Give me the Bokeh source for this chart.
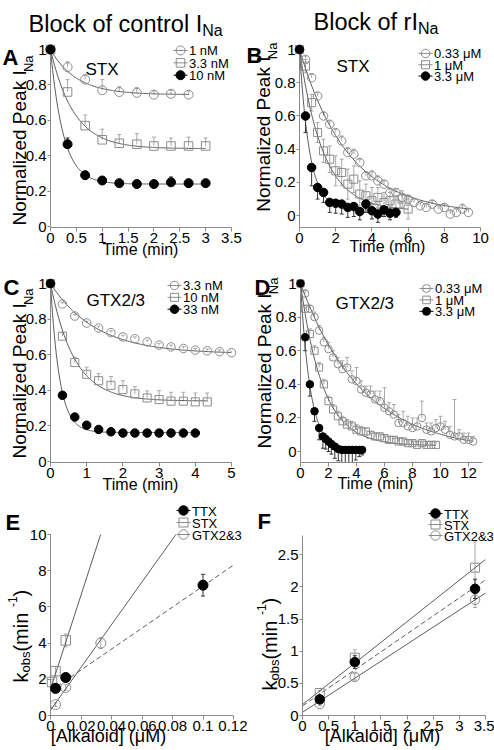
import math
import numpy as np
from bokeh.plotting import figure
from bokeh.models import (Range1d, FixedTicker, CustomJSTickFormatter, Whisker, TeeHead,
                          ColumnDataSource)
from bokeh.core.properties import value
from bokeh.layouts import column, row
from bokeh.embed import file_html
from bokeh.resources import INLINE

# ---------------- data ----------------
# Panel A: STX, control I_Na
A_t_1nM = [0, 0.33, 0.67, 1.0, 1.33, 1.67, 2.0, 2.33, 2.67]
A_y_1nM = [1.0, 0.90, 0.83, 0.77, 0.76, 0.755, 0.745, 0.75, 0.745]
A_e_1nM = [0, 0.03, 0.03, 0.06, 0.03, 0.03, 0.02, 0.02, 0.02]
A_t_3nM = [0, 0.33, 0.67, 1.0, 1.33, 1.67, 2.0, 2.33, 2.67, 3.0]
A_y_3nM = [1.0, 0.76, 0.57, 0.49, 0.47, 0.465, 0.455, 0.455, 0.455, 0.455]
A_e_3nM = [0, 0.07, 0.06, 0.06, 0.05, 0.06, 0.05, 0.045, 0.05, 0.045]
A_t_10nM = [0, 0.33, 0.67, 1.0, 1.33, 1.67, 2.0, 2.33, 2.67, 3.0]
A_y_10nM = [1.0, 0.465, 0.29, 0.26, 0.245, 0.24, 0.24, 0.25, 0.245, 0.245]
A_e_10nM = [0, 0.035, 0.01, 0.01, 0.01, 0.01, 0.01, 0.03, 0.02, 0.01]
A_fit_1nM = (0.745, 0.50)     # (plateau, tau in min)
A_fit_3nM = (0.44, 0.45)
A_fit_10nM = (0.24, 0.25)

# Panel B: STX, rI_Na
B_t_033 = [0, 0.33, 0.67, 1.0, 1.33, 1.67, 2.0, 2.33, 2.67, 3.0, 3.33, 3.67, 4.0, 4.33, 4.67,
           5.0, 5.33, 5.67, 6.0, 6.33, 6.67, 7.0, 7.33, 7.67, 8.0, 8.33, 8.67, 9.0, 9.33]
B_y_033 = [1.0, 0.94, 0.83, 0.72, 0.60, 0.55, 0.50, 0.45, 0.38, 0.37, 0.32, 0.24, 0.24, 0.21, 0.19,
           0.14, 0.14, 0.11, 0.10, 0.08, 0.06, 0.05, 0.07, 0.04, 0.05, 0.01, 0.02, 0.04, 0.02]
B_e_033 = [0, 0.02, 0.02, 0.02, 0.02, 0.02, 0.02, 0.03, 0.03, 0.03, 0.02, 0.02, 0.03, 0.03, 0.02,
           0.02, 0.02, 0.02, 0.02, 0.02, 0.02, 0.02, 0.02, 0.02, 0.02, 0.02, 0.02, 0.03, 0.02]
B_t_1 = [0, 0.33, 0.67, 1.0, 1.33, 1.67, 2.0, 2.33, 2.67, 3.0, 3.33, 3.67, 4.0, 4.33, 4.67,
         5.0, 5.33, 5.67, 6.0]
B_y_1 = [1.0, 0.90, 0.68, 0.50, 0.39, 0.34, 0.27, 0.26, 0.19, 0.22, 0.13, 0.12, 0.09, 0.11, 0.08,
         0.09, 0.07, 0.10, 0.04]
B_e_1 = [0, 0.04, 0.05, 0.06, 0.07, 0.08, 0.09, 0.08, 0.09, 0.08, 0.08, 0.07, 0.08, 0.06, 0.06,
         0.05, 0.05, 0.05, 0.06]
B_t_33 = [0, 0.33, 0.67, 1.0, 1.33, 1.67, 2.0, 2.33, 2.67, 3.0, 3.33, 3.67, 4.0, 4.33, 4.67, 5.0, 5.33]
B_y_33 = [1.0, 0.60, 0.29, 0.17, 0.14, 0.08, 0.075, 0.07, 0.05, 0.055, 0.025, 0.07, 0.03, 0.01,
          0.035, 0.015, 0.02]
B_e_33 = [0, 0.10, 0.11, 0.07, 0.06, 0.06, 0.06, 0.06, 0.06, 0.06, 0.05, 0.05, 0.05, 0.05, 0.04,
          0.04, 0.03]
B_fit_033 = (0.01, 2.7)
B_fit_1 = (0.03, 1.3)
B_fit_33 = (0.04, 0.55)

# Panel C: GTX2/3, control I_Na
C_t_3nM = [0, 0.33, 0.67, 1.0, 1.33, 1.67, 2.0, 2.33, 2.67, 3.0, 3.33, 3.67, 4.0, 4.33, 4.67, 5.0]
C_y_3nM = [1.0, 0.885, 0.817, 0.778, 0.75, 0.724, 0.70, 0.69, 0.672, 0.654, 0.644, 0.635, 0.626,
           0.622, 0.617, 0.611]
C_e_3nM = [0, 0.01, 0.01, 0.01, 0.01, 0.01, 0.01, 0.01, 0.01, 0.01, 0.01, 0.01, 0.01, 0.01, 0.01, 0.01]
C_t_10nM = [0, 0.33, 0.67, 1.0, 1.33, 1.67, 2.0, 2.33, 2.67, 3.0, 3.33, 3.67, 4.0, 4.33]
C_y_10nM = [1.0, 0.704, 0.556, 0.49, 0.454, 0.428, 0.404, 0.38, 0.357, 0.348, 0.339, 0.339, 0.335, 0.335]
C_e_10nM = [0, 0.02, 0.03, 0.04, 0.04, 0.05, 0.05, 0.04, 0.04, 0.05, 0.05, 0.05, 0.05, 0.05]
C_t_33nM = [0, 0.33, 0.67, 1.0, 1.33, 1.67, 2.0, 2.33, 2.67, 3.0, 3.33, 3.67, 4.0]
C_y_33nM = [1.0, 0.372, 0.25, 0.204, 0.18, 0.167, 0.16, 0.16, 0.16, 0.16, 0.16, 0.16, 0.16]
C_e_33nM = [0, 0.01, 0.01, 0.01, 0.01, 0.01, 0.01, 0.01, 0.01, 0.01, 0.01, 0.01, 0.01]
C_fit_3nM = (0.605, 1.25)
C_fit_10nM = (0.34, 0.65)
C_fit_33nM = (0.163, 0.25)

# Panel D: GTX2/3, rI_Na
D_t_033 = [0, 0.33, 0.67, 1.0, 1.33, 1.67, 2.0, 2.33, 2.67, 3.0, 3.33, 3.67, 4.0, 4.33, 4.67,
           5.0, 5.33, 5.67, 6.0, 6.33, 6.67, 7.0, 7.33, 7.67, 8.0, 8.33, 8.67, 9.0, 9.33, 9.67,
           10.0, 10.33, 10.67, 11.0, 11.33, 11.67, 12.0, 12.33]
D_y_033 = [1.0, 0.94, 0.85, 0.80, 0.72, 0.65, 0.61, 0.56, 0.52, 0.49, 0.50, 0.43, 0.42, 0.37, 0.35,
           0.34, 0.31, 0.30, 0.26, 0.24, 0.22, 0.17, 0.17, 0.15, 0.14, 0.15, 0.20, 0.13, 0.12, 0.14,
           0.15, 0.13, 0.10, 0.09, 0.09, 0.07, 0.07, 0.06]
D_e_033 = [0, 0.02, 0.02, 0.03, 0.03, 0.03, 0.04, 0.04, 0.04, 0.05, 0.06, 0.05, 0.08, 0.05, 0.04,
           0.05, 0.05, 0.06, 0.12, 0.05, 0.06, 0.05, 0.07, 0.06, 0.06, 0.05, 0.10, 0.04, 0.05, 0.05,
           0.06, 0.05, 0.05, 0.22, 0.04, 0.04, 0.04, 0.03]
D_t_1 = [0, 0.33, 0.67, 1.0, 1.33, 1.67, 2.0, 2.33, 2.67, 3.0, 3.33, 3.67, 4.0, 4.33, 4.67,
         5.0, 5.33, 5.67, 6.0, 6.33, 6.67, 7.0, 7.33, 7.67, 8.0, 8.33, 8.67, 9.0, 9.33, 9.67]
D_y_1 = [1.0, 0.85, 0.70, 0.60, 0.50, 0.40, 0.30, 0.25, 0.21, 0.18, 0.16, 0.15, 0.13, 0.12, 0.12,
         0.10, 0.09, 0.09, 0.08, 0.07, 0.07, 0.06, 0.06, 0.05, 0.05, 0.04, 0.05, 0.04, 0.04, 0.04]
D_e_1 = [0, 0.02, 0.03, 0.03, 0.03, 0.03, 0.03, 0.03, 0.03, 0.03, 0.03, 0.03, 0.03, 0.03, 0.02,
         0.02, 0.02, 0.02, 0.02, 0.02, 0.02, 0.02, 0.02, 0.02, 0.02, 0.02, 0.02, 0.02, 0.02, 0.02]
D_t_33 = [0, 0.33, 0.67, 1.0, 1.33, 1.6, 1.8, 2.0, 2.2, 2.45, 2.7, 2.95, 3.2, 3.45, 3.7, 3.95, 4.2, 4.4]
D_y_33 = [1.0, 0.68, 0.40, 0.24, 0.14, 0.09, 0.075, 0.06, 0.045, 0.03, 0.015, 0.01, 0.01, 0.01,
          0.01, 0.01, 0.01, 0.01]
D_e_33 = [0, 0.08, 0.07, 0.06, 0.07, 0.07, 0.06, 0.06, 0.06, 0.07, 0.07, 0.08, 0.09, 0.09, 0.08,
          0.06, 0.04, 0.03]
D_fit_033 = (0.0, 4.4)
D_fit_1 = (0.035, 1.6)
D_fit_33 = (0.01, 0.7)

# Panel E: k_obs vs concentration, control I_Na
E_x_TTX = [0.0033, 0.01, 0.1]
E_y_TTX = [1.5, 2.1, 7.2]
E_e_TTX = [0.25, 0.15, 0.6]
E_x_STX = [0.001, 0.0033, 0.01]
E_y_STX = [1.85, 2.45, 4.15]
E_e_STX = [0.15, 0.25, 0.35]
E_x_GTX = [0.0033, 0.01, 0.033]
E_y_GTX = [0.6, 1.55, 4.0]
E_e_GTX = [0.1, 0.15, 0.3]
E_line_TTX = (1.35, 58.0)     # (intercept, slope)
E_line_STX = (1.45, 260.0)
E_line_GTX = (0.3, 118.0)

# Panel F: k_obs vs concentration, rI_Na
F_x = [0.33, 1.0, 3.3]
F_y_TTX = [0.25, 0.83, 1.97]
F_e_TTX = [0.06, 0.10, 0.15]
F_y_STX = [0.35, 0.90, 2.30]
F_e_STX = [0.04, 0.12, 0.40]
F_y_GTX = [0.18, 0.60, 1.80]
F_e_GTX = [0.03, 0.05, 0.12]
F_line_TTX = (0.15, 0.56)
F_line_STX = (0.17, 0.645)
F_line_GTX = (0.05, 0.53)

# tick values
A_xt = [0, 0.5, 1, 1.5, 2, 2.5, 3, 3.5]
B_xt = [0, 2, 4, 6, 8, 10]
C_xt = [0, 1, 2, 3, 4, 5]
D_xt = [0, 2, 4, 6, 8, 10, 12]
E_xt = [0, 0.02, 0.04, 0.06, 0.08, 0.1, 0.12]
F_xt = [0, 0.5, 1, 1.5, 2, 2.5, 3, 3.5]
N_yt = [0, 0.2, 0.4, 0.6, 0.8, 1]
E_yt = [0, 2, 4, 6, 8, 10]
F_yt = [0, 0.5, 1, 1.5, 2, 2.5]

# ---------------- style ----------------
FONT = "Liberation Sans"
OPEN = "#8c8c8c"
ERR_OPEN = "#a8a8a8"
ERR_FILL = "#333333"
FITC = "#4a4a4a"
AXC = "#8a8a8a"
TICK_FS = "15px"

AW = {'N': 722, 'o': 556, 'r': 333, 'm': 833, 'a': 556, 'l': 222, 'i': 222, 'z': 500, 'e': 556,
      'd': 556, ' ': 278, 'P': 667, 'k': 500, 'I': 278, 'b': 556, 's': 500, '(': 333, ')': 333,
      'n': 556, '-': 333, '1': 556, 'B': 667, 'c': 500, 'f': 278, 't': 278}


def tw(s, size):
    return sum(AW.get(c, 556) for c in s) * size / 1000.0


def make_fig(box, frame, xr, yr, xt, yt, ybounds="auto"):
    fx, fy, w, h = box
    l, t, r, b = frame
    p = figure(width=w, height=h, x_range=Range1d(*xr), y_range=Range1d(*yr),
               output_backend="svg", toolbar_location=None,
               min_border_left=l - fx, min_border_right=fx + w - r,
               min_border_top=t - fy, min_border_bottom=fy + h - b)
    # pixel ranges of the frame, used only for texts and legend keys
    p.extra_x_ranges = {"px": Range1d(0, r - l)}
    p.extra_y_ranges = {"px": Range1d(0, b - t)}
    p.xgrid.visible = False
    p.ygrid.visible = False
    p.outline_line_color = None
    p.background_fill_color = "white"
    p.border_fill_color = "white"
    fmt = "return String(Math.round(tick*1000)/1000)"
    for ax, ticks, tout in ((p.xaxis[0], xt, 4), (p.yaxis[0], yt, 3)):
        ax.ticker = FixedTicker(ticks=ticks)
        ax.formatter = CustomJSTickFormatter(code=fmt)
        ax.axis_line_color = AXC
        ax.axis_line_width = 1
        ax.major_tick_line_color = AXC
        ax.minor_tick_line_color = None
        ax.major_tick_in = 0
        ax.major_tick_out = tout
        ax.major_label_text_font = FONT
        ax.major_label_text_font_size = TICK_FS
        ax.major_label_text_color = "black"
        ax.major_label_standoff = 1
    p.yaxis[0].bounds = ybounds
    return p


def lab(p, frame, px, py, text, size, angle=0.0, style="normal", align="left",
        baseline="alphabetic"):
    l, t, r, b = frame
    p.text(x=[px - l], y=[b - py], text=[text], x_range_name="px", y_range_name="px",
           text_font=value(FONT), text_font_size=value(f"{size}px"), text_font_style=style,
           text_align=align, text_baseline=baseline, angle=angle, text_color="black",
           level="overlay")


def hpieces(p, frame, x0, y0, pieces):
    x = x0
    for text, size, dy in pieces:
        lab(p, frame, x, y0 + dy, text, size)
        x += tw(text, size)


def vpieces(p, frame, bx, y0, pieces):
    y = y0
    for text, size, dx in pieces:
        lab(p, frame, bx + dx, y, text, size, angle=math.pi / 2)
        y -= tw(text, size)


def errbars(p, x, y, err, color, mode):
    xs, lo, hi = [], [], []
    for xi, yi, ei in zip(x, y, err):
        if ei <= 0:
            continue
        xs.append(xi)
        lo.append(yi - ei if mode in ("down", "both") else yi)
        hi.append(yi + ei if mode in ("up", "both") else yi)
    src = ColumnDataSource(dict(base=xs, lower=lo, upper=hi))
    up = TeeHead(size=4, line_color=color, line_width=1) if mode in ("up", "both") else None
    dn = TeeHead(size=4, line_color=color, line_width=1) if mode in ("down", "both") else None
    p.add_layout(Whisker(source=src, base="base", lower="lower", upper="upper",
                         dimension="height", line_color=color, line_width=1,
                         upper_head=up, lower_head=dn))


def style_of(kind):
    if kind == "filled":
        return "black", "black", ERR_FILL, "circle"
    if kind == "circle":
        return OPEN, None, ERR_OPEN, "circle"
    return OPEN, None, ERR_OPEN, "square"


def series(p, x, y, err, kind, mode, size):
    lc, fc, ec, mk = style_of(kind)
    if mk == "square":
        size = size * 0.95
    errbars(p, x, y, err, ec, mode)
    p.scatter(x, y, marker=mk, size=size, line_color=lc, fill_color=fc, line_width=1,
              level="overlay")


def fit(p, params, tmax):
    c, tau = params
    t = np.linspace(0, tmax, 150)
    p.line(t, c + (1 - c) * np.exp(-t / tau), line_color=FITC, line_width=0.9)


def regline(p, params, xmax, ymax, dash="solid"):
    a, s = params
    xend = min(xmax, (ymax - a) / s)
    xx = [0, xend]
    p.line(xx, [a + s * v for v in xx], line_color=FITC, line_width=0.9, line_dash=dash)


def leg(p, frame, label, kind, size, cx, cy):
    """legend key: short line, marker, label (pixel coords of the page)"""
    l, t, r, b = frame
    lc, fc, ec, mk = style_of(kind)
    if mk == "square":
        size = size * 0.95
    X, Y = cx - l, b - cy
    p.line([X - 7, X + 7], [Y, Y], x_range_name="px", y_range_name="px", line_color=lc,
           line_width=1, level="overlay")
    p.scatter([X], [Y], marker=mk, size=size, line_color=lc, fill_color=fc, line_width=1,
              x_range_name="px", y_range_name="px", level="overlay")
    lab(p, frame, cx + 8.5, cy + 0.5, label, 13, baseline="middle")


YLAB = [("Normalized Peak I", 19, 0), ("Na", 13, 9)]
KLAB = [("k", 20, 0), ("obs", 13, 5), (" (min", 20, 0), ("-1", 12, -8.5), (")", 20, 0)]

# ---------------- panels (page coordinates) ----------------
frA = (50, 47, 231, 227)
pA = make_fig((0, 0, 247, 258), frA, (0, 3.5), (-0.0055, 1.0), A_xt, N_yt)
fit(pA, A_fit_1nM, 2.67)
fit(pA, A_fit_3nM, 3.0)
fit(pA, A_fit_10nM, 3.0)
series(pA, A_t_1nM, A_y_1nM, A_e_1nM, "circle", "up", 9)
series(pA, A_t_3nM, A_y_3nM, A_e_3nM, "square", "up", 9)
series(pA, A_t_10nM, A_y_10nM, A_e_10nM, "filled", "up", 9)
leg(pA, frA, "1 nM", "circle", 9, 180, 48)
leg(pA, frA, "3.3 nM", "square", 9, 180, 60.5)
leg(pA, frA, "10 nM", "filled", 9, 180, 73)
lab(pA, frA, 85, 67, "STX", 17)
lab(pA, frA, 2, 55, "A", 22, style="bold")
hpieces(pA, frA, 28, 21, [("Block of control I", 23.5, 0), ("Na", 16, 7)])
vpieces(pA, frA, 18.5, 225, YLAB)
lab(pA, frA, 140, 249, "Time (min)", 16, align="center")

frB = (299, 49, 480, 230)
pB = make_fig((247, 0, 247, 258), frB, (0, 10), (-0.071, 1.0), B_xt, N_yt)
fit(pB, B_fit_033, 9.33)
fit(pB, B_fit_1, 6.0)
fit(pB, B_fit_33, 5.33)
series(pB, B_t_033, B_y_033, B_e_033, "circle", "up", 8.5)
series(pB, B_t_1, B_y_1, B_e_1, "square", "both", 8.5)
series(pB, B_t_33, B_y_33, B_e_33, "filled", "down", 8.5)
leg(pB, frB, "0.33 μM", "circle", 8.5, 425, 53)
leg(pB, frB, "1 μM", "square", 8.5, 425, 64.5)
leg(pB, frB, "3.3 μM", "filled", 8.5, 425, 76)
lab(pB, frB, 336, 66, "STX", 17)
lab(pB, frB, 246, 55, "B", 22, style="bold")
hpieces(pB, frB, 313, 21, [("Block of rI", 23.5, 0), ("Na", 16, 7)])
vpieces(pB, frB, 263, 214, YLAB)
lab(pB, frB, 387, 249, "Time (min)", 16, align="center")

frC = (50, 281, 231, 462)
pC = make_fig((0, 258, 247, 238), frC, (0, 5), (-0.0055, 1.0), C_xt, N_yt)
fit(pC, C_fit_3nM, 5.0)
fit(pC, C_fit_10nM, 4.33)
fit(pC, C_fit_33nM, 4.0)
series(pC, C_t_3nM, C_y_3nM, C_e_3nM, "circle", "up", 8.5)
series(pC, C_t_10nM, C_y_10nM, C_e_10nM, "square", "up", 8.5)
series(pC, C_t_33nM, C_y_33nM, C_e_33nM, "filled", "up", 8.5)
leg(pC, frC, "3.3 nM", "circle", 8.5, 174, 283)
leg(pC, frC, "10 nM", "square", 8.5, 174, 295)
leg(pC, frC, "33 nM", "filled", 8.5, 174, 307)
lab(pC, frC, 86, 298, "GTX2/3", 17)
lab(pC, frC, 3, 285, "C", 22, style="bold")
vpieces(pC, frC, 18.5, 458, YLAB)
lab(pC, frC, 140, 484, "Time (min)", 16, align="center")

frD = (300, 283, 482, 463)
pD = make_fig((247, 258, 247, 238), frD, (0, 13), (-0.065, 1.0), D_xt, N_yt)
fit(pD, D_fit_033, 12.33)
fit(pD, D_fit_1, 9.67)
fit(pD, D_fit_33, 4.4)
series(pD, D_t_033, D_y_033, D_e_033, "circle", "up", 7.5)
series(pD, D_t_1, D_y_1, D_e_1, "square", "up", 7.5)
series(pD, D_t_33, D_y_33, D_e_33, "filled", "down", 7.5)
leg(pD, frD, "0.33 μM", "circle", 8, 426, 288)
leg(pD, frD, "1 μM", "square", 8, 426, 299.5)
leg(pD, frD, "3.3 μM", "filled", 8, 426, 311)
lab(pD, frD, 335, 303, "GTX2/3", 17)
lab(pD, frD, 254, 287, "D", 22, style="bold")
vpieces(pD, frD, 264, 449, YLAB)
lab(pD, frD, 375, 484, "Time (min)", 16, align="center")

# E and F: the frame reaches above the axis top so that the legend keys are drawn;
# the y axis itself is bounded to the labelled range.
E_top = 10.0
frE = (50, 504, 233, 715)
E_ymax = E_top * (715 - 504) / (715 - 534)
pE = make_fig((0, 496, 247, 254), frE, (0, 0.12), (0, E_ymax), E_xt, E_yt, ybounds=(0, E_top))
regline(pE, E_line_STX, 0.12, E_top)
regline(pE, E_line_GTX, 0.12, E_top)
regline(pE, E_line_TTX, 0.12, E_top, dash="5 3")
series(pE, E_x_STX, E_y_STX, E_e_STX, "square", "both", 10)
series(pE, E_x_GTX, E_y_GTX, E_e_GTX, "circle", "both", 10)
series(pE, E_x_TTX, E_y_TTX, E_e_TTX, "filled", "both", 10)
leg(pE, frE, "TTX", "filled", 9.5, 183, 510)
leg(pE, frE, "STX", "square", 9.5, 183, 522)
leg(pE, frE, "GTX2&3", "circle", 9.5, 183, 534)
lab(pE, frE, 5, 522, "E", 22, style="bold")
vpieces(pE, frE, 20, 682, KLAB)
lab(pE, frE, 108, 735, "[Alkaloid] (μM)", 18, align="center")

F_top = 2.8
frF = (302, 504, 485, 715)
F_ymax = F_top * (715 - 504) / (715 - 535)
pF = make_fig((247, 496, 247, 254), frF, (0, 3.5), (0, F_ymax), F_xt, F_yt, ybounds=(0, F_top))
regline(pF, F_line_STX, 3.5, F_top)
regline(pF, F_line_GTX, 3.5, F_top)
regline(pF, F_line_TTX, 3.5, F_top, dash="5 3")
series(pF, F_x, F_y_STX, F_e_STX, "square", "both", 9.5)
series(pF, F_x, F_y_GTX, F_e_GTX, "circle", "both", 9.5)
series(pF, F_x, F_y_TTX, F_e_TTX, "filled", "both", 9.5)
leg(pF, frF, "TTX", "filled", 9.5, 435, 513)
leg(pF, frF, "STX", "square", 9.5, 435, 524)
leg(pF, frF, "GTX2&3", "circle", 9.5, 435, 535)
lab(pF, frF, 257, 521, "F", 22, style="bold")
vpieces(pF, frF, 269, 690, KLAB)
lab(pF, frF, 382, 735, "[Alkaloid] (μM)", 18, align="center")

layout = column(row(pA, pB), row(pC, pD), row(pE, pF))
open("out.html", "w").write(file_html(layout, INLINE))
